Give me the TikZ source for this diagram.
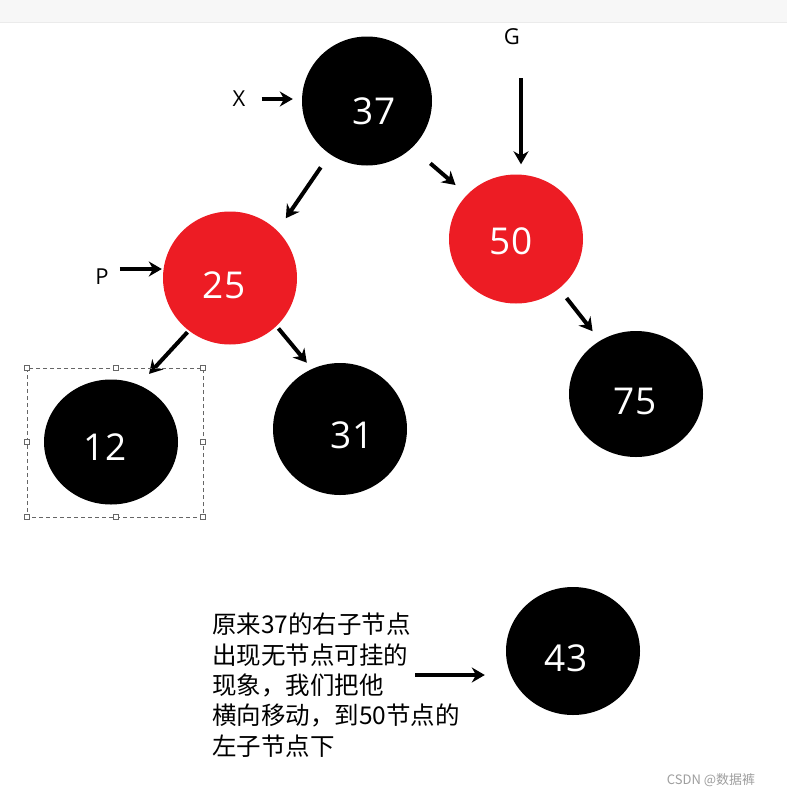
\documentclass[tikz,border=0pt]{standalone}
\usepackage{fontspec}
\setmainfont{Open Sans}
\newfontfamily\cjk{Noto Sans CJK SC}
\usepackage{tikz}
\usetikzlibrary{arrows.meta,shapes.geometric}
\definecolor{rbRed}{RGB}{237,28,36}

\begin{document}
\begin{tikzpicture}[x=1pt,y=-1pt,
    rbnode/.style={ellipse, inner sep=0pt, minimum width=134pt, minimum height=129pt},
    blacknode/.style={rbnode, fill=black},
    rednode/.style={rbnode, fill=rbRed},
    num/.style={text=white, inner sep=0pt, font=\fontsize{37}{40}\selectfont},
    tag/.style={font=\fontsize{22}{26}\selectfont, inner sep=2pt},
    arr/.style={-{Stealth[length=13pt,width=15pt]}, line width=4pt},
    handle/.style={draw=black!60, fill=white, line width=0.8pt, minimum size=5pt, inner sep=0pt}
  ]
  \useasboundingbox (0,0) rectangle (787,798);
  \fill[white] (0,0) rectangle (787,798);
  % window strip on top
  \fill[black!3] (0,0) rectangle (787,22);
  \draw[black!8, line width=1pt] (0,22) -- (787,22);

  % the tree
  \node[blacknode, minimum width=130pt, label={[num,xshift=7pt,yshift=-10pt]center:37}] (n37) at (367,101) {};
  \node[rednode, label={[num,xshift=-5pt,yshift=-2pt]center:50}] (n50) at (516,239) {};
  \node[rednode, minimum height=133pt, label={[num,xshift=-6pt,yshift=-7pt]center:25}] (n25) at (230,278) {};
  \node[blacknode, minimum height=125pt, label={[num,xshift=-6pt,yshift=-5pt]center:12}] (n12) at (111,442) {};
  \node[blacknode, minimum height=132pt, label={[num,xshift=12pt,yshift=-6pt]center:31}] (n31) at (340,429) {};
  \node[blacknode, minimum height=126pt, label={[num,xshift=-1pt,yshift=-7pt]center:75}] (n75) at (636,394) {};
  \node[blacknode, minimum height=128pt, label={[num,xshift=-7pt,yshift=-7pt]center:43}] (n43) at (573,651) {};

  \node[tag] (xlab) at (239,99) {X};
  \node[tag] (glab) at (512,37) {G};
  \node[tag] (plab) at (102,277) {P};

  \draw[arr, shorten <=14pt, shorten >=9pt] (xlab) -- (xlab -| n37.west);
  \draw[arr, shorten <=31pt, shorten >=10pt] ([xshift=9pt]glab.south) -- ([xshift=5pt]n50.north);
  \draw[arr, shorten <=9pt, shorten >=1pt] ([yshift=8pt]plab.east) -- ([yshift=8pt]plab.east -| n25.west);

  \draw[arr, shorten <=16pt, shorten >=15pt] (n37.-125) -- (n25.45);
  \draw[arr, shorten <=24pt, shorten >=15pt] (n37.-46) -- (n50.138);
  \draw[arr, shorten <=2pt, shorten >=15pt] (n25.-128) -- (n12.64);
  \draw[arr, shorten <=3pt, shorten >=8pt] (n25.-46) -- (n31.115);
  \draw[arr, shorten <=12pt, shorten >=12pt] (n50.-49) -- (n75.124);

  % selection frame round 12
  \draw[black!60, line width=0.8pt, dash pattern=on 4pt off 3pt] (27,368) rectangle (203,517);
  \foreach \hx/\hy in {27/368,116/368,203/368,27/442,203/442,27/517,116/517,203/517}
    \node[handle] at (\hx,\hy) {};

  % note on the moved node
  \node[anchor=north west, align=left, inner sep=0pt,
        font=\cjk\fontsize{24.5}{30.3}\selectfont] (note) at (212,613)
    {原来37的右子节点\\出现无节点可挂的\\现象，我们把他\\横向移动，到50节点的\\左子节点下};
  \coordinate (arrstart) at (415,675);
  \draw[arr, shorten >=21pt] (arrstart) -- (arrstart -| n43.west);

  \node[text=black!38, font=\cjk\fontsize{13}{15}\selectfont] (mark) at (711,780) {CSDN @数据裤};
\end{tikzpicture}
\end{document}
